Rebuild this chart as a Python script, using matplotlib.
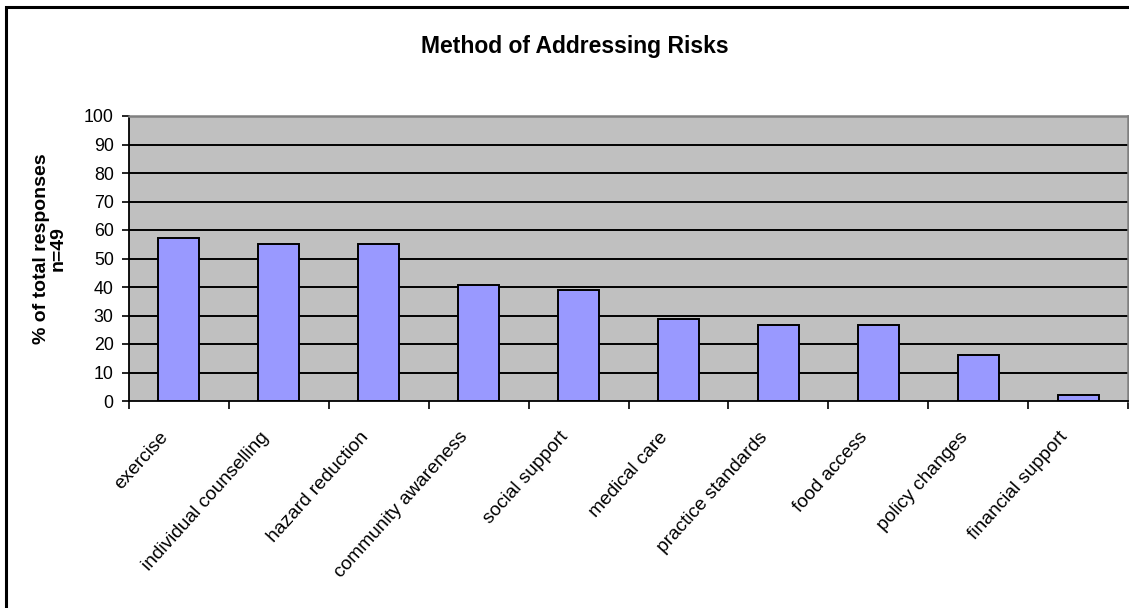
import matplotlib
matplotlib.use("Agg")
import matplotlib.pyplot as plt
from matplotlib.patches import Rectangle
from matplotlib.transforms import offset_copy
import numpy as np

categories = ["exercise", "individual counselling", "hazard reduction",
              "community awareness", "social support", "medical care",
              "practice standards", "food access", "policy changes",
              "financial support"]
percent = [57.1, 55.1, 55.1, 40.8, 38.8, 28.6, 26.5, 26.5, 16.3, 2.0]
y_ticks = [0, 10, 20, 30, 40, 50, 60, 70, 80, 90, 100]

plt.rcParams["font.family"] = ["Liberation Sans", "DejaVu Sans"]

W, H = 1129, 608
fig = plt.figure(figsize=(W / 100, H / 100), dpi=100)
fig.patch.set_facecolor("white")

# outer chart frame (right and bottom run off the canvas)
fig.patches.append(Rectangle((6 / W, -0.05), 1.2, 1 - 7 / H + 0.05,
                             transform=fig.transFigure, fill=False,
                             edgecolor="black", linewidth=2.2, zorder=0))

left, right, top, bottom = 129, 1128, 116, 401
ax = fig.add_axes([left / W, (H - bottom) / H, (right - left) / W, (bottom - top) / H])
ax.set_facecolor("#C0C0C0")

x = np.arange(len(categories))
ax.set_xlim(-0.5, len(categories) - 0.5)
ax.set_ylim(0, 100)

for yv in y_ticks[1:-1]:
    ax.axhline(yv, color="black", linewidth=1.4, zorder=1)

ax.bar(x, percent, width=0.41, color="#9999FF", edgecolor="black",
       linewidth=1.4, zorder=2)

ax.set_yticks(y_ticks)
ax.set_yticklabels([str(v) for v in y_ticks], fontsize=12.8)
ax.tick_params(axis="y", direction="out", length=5, width=1.2, pad=6)

# category ticks sit on the boundaries between categories
ax.set_xticks(np.arange(len(categories) + 1) - 0.5)
ax.set_xticklabels([])
ax.tick_params(axis="x", direction="out", length=6, width=1.2)

trans = offset_copy(ax.get_xaxis_transform(), fig=fig, x=-9.5, y=-24, units="points")
for xi, name in zip(x, categories):
    ax.text(xi, 0, name, transform=trans, rotation=48, ha="right", va="center",
            rotation_mode="anchor", fontsize=13.8)

for side in ["left", "bottom"]:
    ax.spines[side].set_color("black")
    ax.spines[side].set_linewidth(1.3)
for side in ["top", "right"]:
    ax.spines[side].set_color("#808080")
    ax.spines[side].set_linewidth(1.8)

fig.text(575 / W, 1 - 53 / H, "Method of Addressing Risks",
         ha="center", va="baseline", fontsize=16.5, fontweight="bold")

fig.text(50 / W, 1 - 249 / H, "% of total responses\nn=49", rotation=90,
         ha="center", va="center", fontsize=14, fontweight="bold",
         multialignment="center", linespacing=1.0)

fig.savefig("out.png", dpi=100)
